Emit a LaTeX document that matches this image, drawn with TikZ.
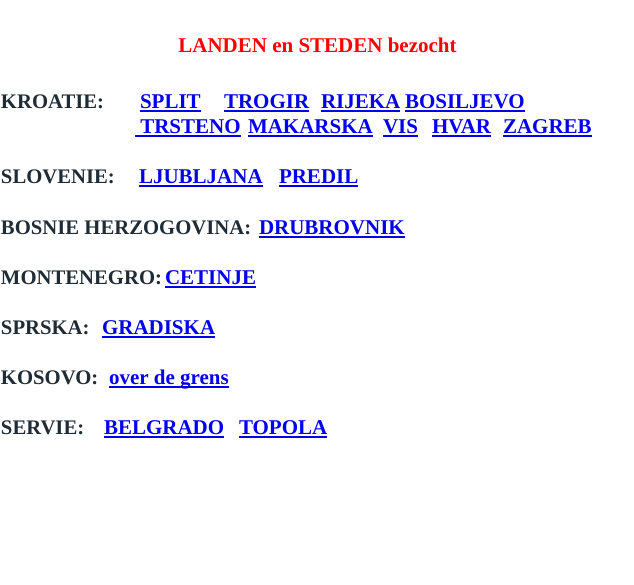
\documentclass[tikz,border=0pt]{standalone}
\usepackage{fontspec}
\setmainfont{Liberation Serif}
\definecolor{lbl}{HTML}{1F2B35}
\definecolor{lnkc}{HTML}{0000EE}
\definecolor{ttl}{HTML}{FF0000}
\begin{document}
\begin{tikzpicture}[x=1pt,y=-1pt,
  txt/.style={inner sep=0pt,outer sep=0pt,anchor=base west,font=\fontsize{21}{24}\selectfont\bfseries},
  lab/.style={txt,text=lbl,font=\fontsize{20.7}{24}\selectfont\bfseries},
  lnk/.style={txt,text=lnkc},
  ul/.style={draw=lnkc,line width=1.8pt}]
\useasboundingbox (0,0) rectangle (634,584);
\node[txt,anchor=base,text=ttl] (title) at (317.5,52) {LANDEN en STEDEN bezocht};
% Kroatie
\node[lab] (kro) at (1,108) {KROATIE:};
\node[lnk] (split) at (140,108) {SPLIT};
\node[lnk] (trogir) at (224,108) {TROGIR};
\node[lnk] (rijeka) at (321,108) {RIJEKA};
\node[lnk] (bosiljevo) at (405,108) {BOSILJEVO};
\node[lnk] (trsteno) at (135,133) {~TRSTENO};
\node[lnk] (makarska) at (248,133) {MAKARSKA};
\node[lnk] (vis) at (383,133) {VIS};
\node[lnk] (hvar) at (432,133) {HVAR};
\node[lnk] (zagreb) at (503,133) {ZAGREB};
% Slovenie
\node[lab] (slo) at (1,183) {SLOVENIE:};
\node[lnk] (ljubljana) at (139,183) {LJUBLJANA};
\node[lnk] (predil) at (279,183) {PREDIL};
% Bosnie
\node[lab] (bos) at (1,234) {BOSNIE HERZOGOVINA:};
\node[lnk] (drubrovnik) at (259,234) {DRUBROVNIK};
% Montenegro
\node[lab] (mon) at (1,284) {MONTENEGRO:};
\node[lnk] (cetinje) at (165,284) {CETINJE};
% Sprska
\node[lab] (spr) at (1,334) {SPRSKA:};
\node[lnk] (gradiska) at (102,334) {GRADISKA};
% Kosovo
\node[lab] (kos) at (1,384) {KOSOVO:};
\node[lnk] (grens) at (109,384) {over de grens};
% Servie
\node[lab] (ser) at (1,434) {SERVIE:};
\node[lnk] (belgrado) at (104,434) {BELGRADO};
\node[lnk] (topola) at (239,434) {TOPOLA};
\foreach \n in {split,trogir,rijeka,bosiljevo,trsteno,makarska,vis,hvar,zagreb,ljubljana,predil,drubrovnik,cetinje,gradiska,grens,belgrado,topola}
  \draw[ul] ([yshift=-2.6pt]\n.base west) -- ([yshift=-2.6pt]\n.base east);
\end{tikzpicture}
\end{document}
